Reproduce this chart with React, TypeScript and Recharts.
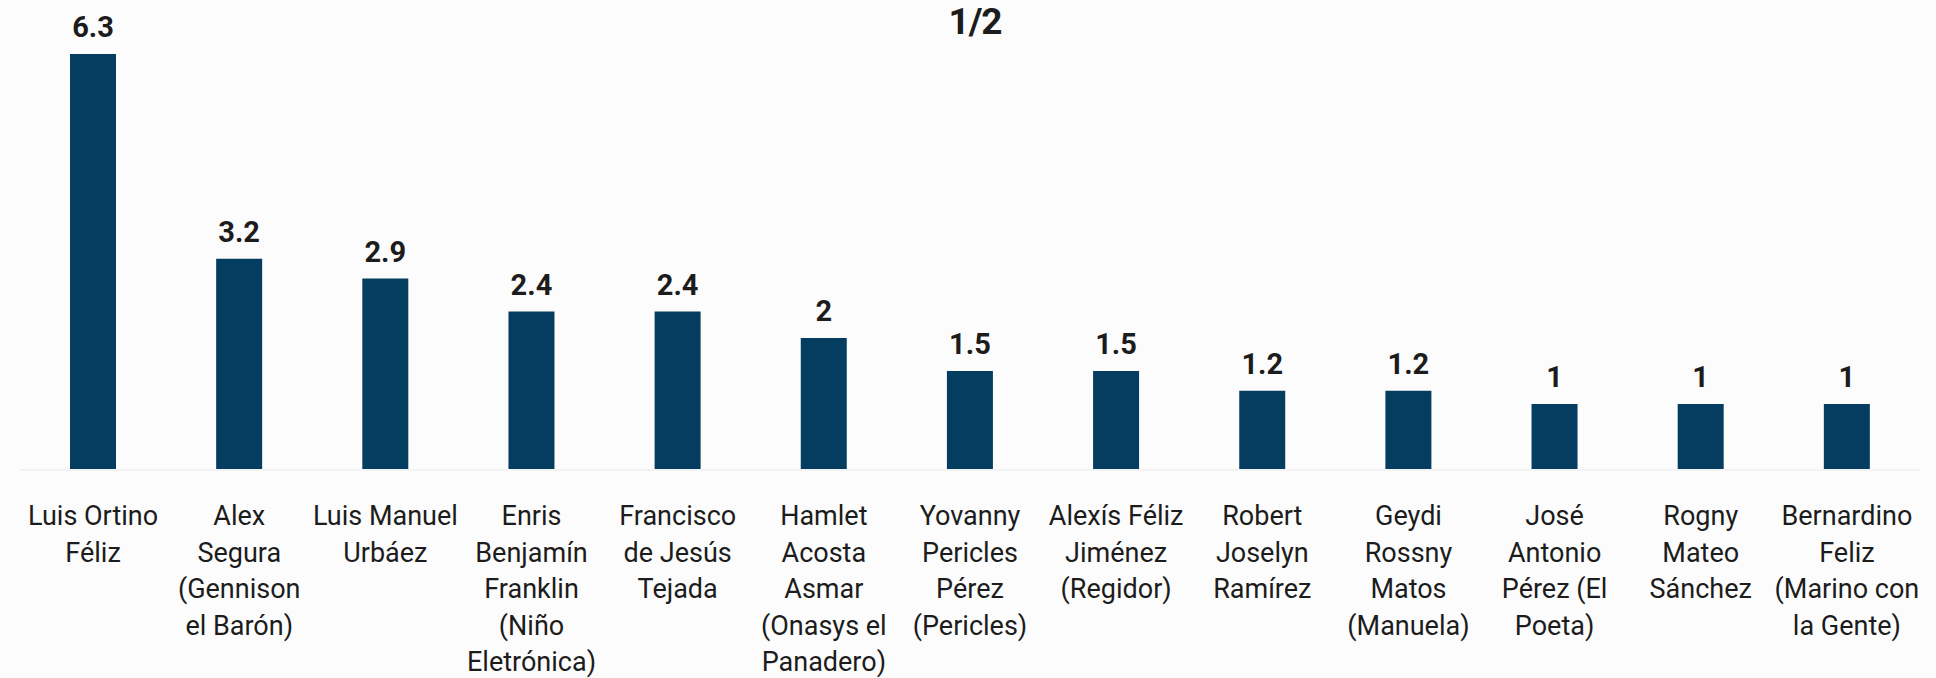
import { Bar, BarChart, LabelList, XAxis, YAxis } from "recharts";

const CANDIDATOS = [
	"Luis Ortino\nFéliz",
	"Alex\nSegura\n(Gennison\nel Barón)",
	"Luis Manuel\nUrbáez",
	"Enris\nBenjamín\nFranklin\n(Niño\nEletrónica)",
	"Francisco\nde Jesús\nTejada",
	"Hamlet\nAcosta\nAsmar\n(Onasys el\nPanadero)",
	"Yovanny\nPericles\nPérez\n(Pericles)",
	"Alexís Féliz\nJiménez\n(Regidor)",
	"Robert\nJoselyn\nRamírez",
	"Geydi\nRossny\nMatos\n(Manuela)",
	"José\nAntonio\nPérez (El\nPoeta)",
	"Rogny\nMateo\nSánchez",
	"Bernardino\nFeliz\n(Marino con\nla Gente)",
];

const PORCENTAJES = [6.3, 3.2, 2.9, 2.4, 2.4, 2, 1.5, 1.5, 1.2, 1.2, 1, 1, 1];

const TITULO = "1/2";

const data = CANDIDATOS.map((name, i) => ({ name, valor: PORCENTAJES[i] }));

const FONT = "Roboto, 'DejaVu Sans', sans-serif";

function NameTick({ x, y, payload }: any) {
	const lines = String(payload.value).split("\n");
	return (
		<text
			x={x}
			y={y}
			textAnchor="middle"
			fill="#1c1c1c"
			fontFamily={FONT}
			fontSize={27}
		>
			{lines.map((line, i) => (
				<tspan key={i} x={x} dy={i === 0 ? 55 : 36.5}>
					{line}
				</tspan>
			))}
		</text>
	);
}

export default function App() {
	return (
		<div style={{ position: "relative", width: 1936, height: 678, background: "#fcfcfc" }}>
			<style>{`body{margin:0;background:#fcfcfc}`}</style>
			<div
				style={{
					position: "absolute",
					top: 0,
					left: 0,
					width: 1936,
					textAlign: "center",
					fontFamily: FONT,
					fontWeight: 700,
					fontSize: 37,
					lineHeight: "44px",
					color: "#1c1c1c",
					paddingLeft: 14,
					boxSizing: "border-box",
					letterSpacing: -1,
				}}
			>
				{TITULO}
			</div>
			<BarChart
				width={1936}
				height={678}
				data={data}
				margin={{ top: 54, right: 16, bottom: 0, left: 20 }}
			>
				<XAxis
					dataKey="name"
					interval={0}
					height={208}
					tickLine={false}
					tickSize={0}
					tickMargin={0}
					axisLine={{ stroke: "#f3f3f3", strokeWidth: 2 }}
					tick={<NameTick />}
				/>
				<YAxis hide domain={[0, 6.3]} />
				<Bar dataKey="valor" fill="#043d5f" barSize={46} isAnimationActive={false}>
					<LabelList
						dataKey="valor"
						position="top"
						offset={17}
						fill="#1c1c1c"
						fontFamily={FONT}
						fontWeight={700}
						fontSize={29}
					/>
				</Bar>
			</BarChart>
		</div>
	);
}
